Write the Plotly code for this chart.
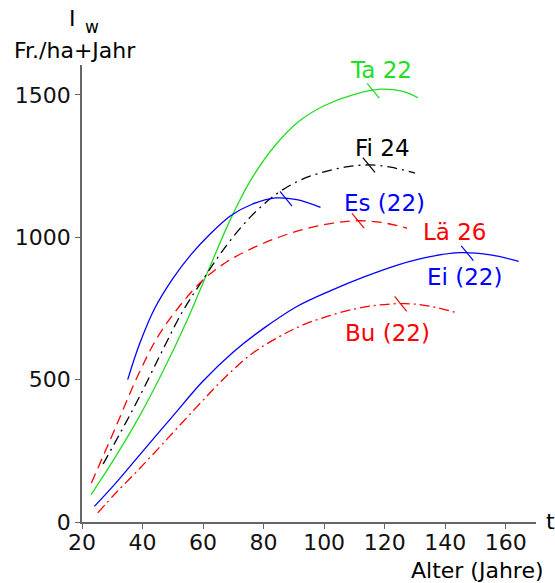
import numpy as np
import plotly.graph_objects as go

# Value increment I_w (Fr./ha+Jahr) against stand age for six tree species
ta_age = [23, 31, 39, 47, 55, 62, 69, 76, 84, 92, 100, 110, 119, 126, 131]
ta_val = [96, 228, 372, 535, 715, 890, 1062, 1205, 1325, 1410, 1462, 1502, 1520, 1512, 1490]

fi_age = [27, 33, 39, 46, 53, 60.5, 68, 76, 84, 92, 100, 108, 115, 122, 130]
fi_val = [204, 320, 440, 590, 735, 860, 975, 1075, 1150, 1200, 1230, 1248, 1254, 1246, 1225]

es_age = [35.1, 39, 44, 50, 56, 62, 69, 76, 84, 91, 98.8]
es_val = [500, 625, 750, 855, 939, 1008, 1075, 1115, 1138, 1132, 1105]

lae_age = [23.1, 31, 38.7, 45, 52, 60, 68, 76, 85, 94, 103, 111, 119, 127.4]
lae_val = [137, 330, 520, 650, 755, 850, 915, 960, 1000, 1030, 1050, 1058, 1052, 1032]

ei_age = [24.1, 31, 39, 50, 60, 70, 80, 91, 102, 113, 125, 135, 145, 155, 164.3]
ei_val = [55, 135, 235, 372, 495, 597, 680, 757, 812, 860, 905, 932, 946, 938, 915]

bu_age = [25.2, 31, 38.7, 48, 58, 67, 76, 85, 93, 101, 110, 118, 126.9, 135, 144]
bu_val = [32, 100, 184, 290, 405, 505, 590, 650, 692, 722, 748, 762, 767, 758, 734]

# Age at which each curve carries its short cross-mark
mark_age = {"Ta": 116.2, "Fi": 114.8, "Es": 87.4, "Lä": 111.2, "Ei": 147.3, "Bu": 125.3}

# Curve labels: text, anchor age, anchor value
labels = [
    ("Ta 22", 118.9, 1588, "#22dd22"),
    ("Fi 24", 119.3, 1314, "#000000"),
    ("Es (22)", 119.8, 1121, "#0000ff"),
    ("Lä 26", 143.1, 1020, "#ff0000"),
    ("Ei (22)", 146.5, 862, "#0000ff"),
    ("Bu (22)", 120.8, 664, "#ff0000"),
]

x_ticks = [20, 40, 60, 80, 100, 120, 140, 160]
y_ticks = [0, 500, 1000, 1500]

FONT = "DejaVu Sans"
AXIS = "#666666"

series = [
    ("Ta", ta_age, ta_val, "#22dd22", "solid"),
    ("Fi", fi_age, fi_val, "#000000", "10px,5px,2px,5px"),
    ("Es", es_age, es_val, "#0000ff", "solid"),
    ("Lä", lae_age, lae_val, "#ff0000", "10px,6px"),
    ("Ei", ei_age, ei_val, "#0000ff", "solid"),
    ("Bu", bu_age, bu_val, "#ff0000", "10px,4px,2px,4px"),
]

fig = go.Figure()
shapes = []
for name, ages, vals, color, dash in series:
    fig.add_trace(go.Scatter(
        x=ages, y=vals, mode="lines", name=name,
        line=dict(color=color, width=1.3, dash=dash, shape="spline", smoothing=1.0),
        hoverinfo="skip",
    ))
    a = mark_age[name]
    v = float(np.interp(a, ages, vals))
    shapes.append(dict(
        type="line", xref="x", yref="y",
        x0=a - 2.0, y0=v + 26, x1=a + 2.0, y1=v - 26,
        line=dict(color=color, width=1.2),
    ))

annotations = []
for text, a, v, color in labels:
    annotations.append(dict(
        x=a, y=v, xref="x", yref="y", text=text, showarrow=False,
        font=dict(family=FONT, size=23, color=color),
        xanchor="center", yanchor="middle",
    ))

L, R, T, B = 82, 19, 65, 60.5
W, H = 555, 583
pw, ph = W - L - R, H - T - B


def px(xp):
    return (xp - L) / pw


def py(yp):
    return (H - B - yp) / ph


annotations += [
    dict(x=px(72), y=py(18), xref="paper", yref="paper", text="I", showarrow=False,
         font=dict(family=FONT, size=22, color="#000"), xanchor="center", yanchor="middle"),
    dict(x=px(92), y=py(27), xref="paper", yref="paper", text="w", showarrow=False,
         font=dict(family=FONT, size=17, color="#000"), xanchor="center", yanchor="middle"),
    dict(x=px(12), y=py(50), xref="paper", yref="paper", text="Fr./ha+Jahr", showarrow=False,
         font=dict(family=FONT, size=22, color="#000"), xanchor="left", yanchor="middle"),
    dict(x=px(550), y=py(522), xref="paper", yref="paper", text="t", showarrow=False,
         font=dict(family=FONT, size=22, color="#000"), xanchor="center", yanchor="middle"),
    dict(x=px(546), y=py(571), xref="paper", yref="paper", text="Alter (Jahre)", showarrow=False,
         font=dict(family=FONT, size=22, color="#000"), xanchor="right", yanchor="middle"),
]

fig.update_layout(
    width=W, height=H,
    margin=dict(l=L, r=R, t=T, b=B, pad=0),
    paper_bgcolor="white", plot_bgcolor="white",
    showlegend=False,
    shapes=shapes,
    annotations=annotations,
    xaxis=dict(
        range=[20, 170], tickvals=x_ticks, ticktext=[str(v) for v in x_ticks],
        showline=True, linecolor=AXIS, linewidth=1.5, mirror=False,
        ticks="outside", ticklen=5, tickcolor=AXIS, tickwidth=1.2,
        ticklabelstandoff=-5,
        showgrid=False, zeroline=False,
        tickfont=dict(family=FONT, size=22, color="#111"),
    ),
    yaxis=dict(
        range=[0, 1605], tickvals=y_ticks, ticktext=[str(v) for v in y_ticks],
        showline=True, linecolor=AXIS, linewidth=1.5, mirror=False,
        ticks="outside", ticklen=5, tickcolor=AXIS, tickwidth=1.2,
        showgrid=False, zeroline=False,
        tickfont=dict(family=FONT, size=22, color="#111"),
    ),
)

fig.write_html("out.html")
